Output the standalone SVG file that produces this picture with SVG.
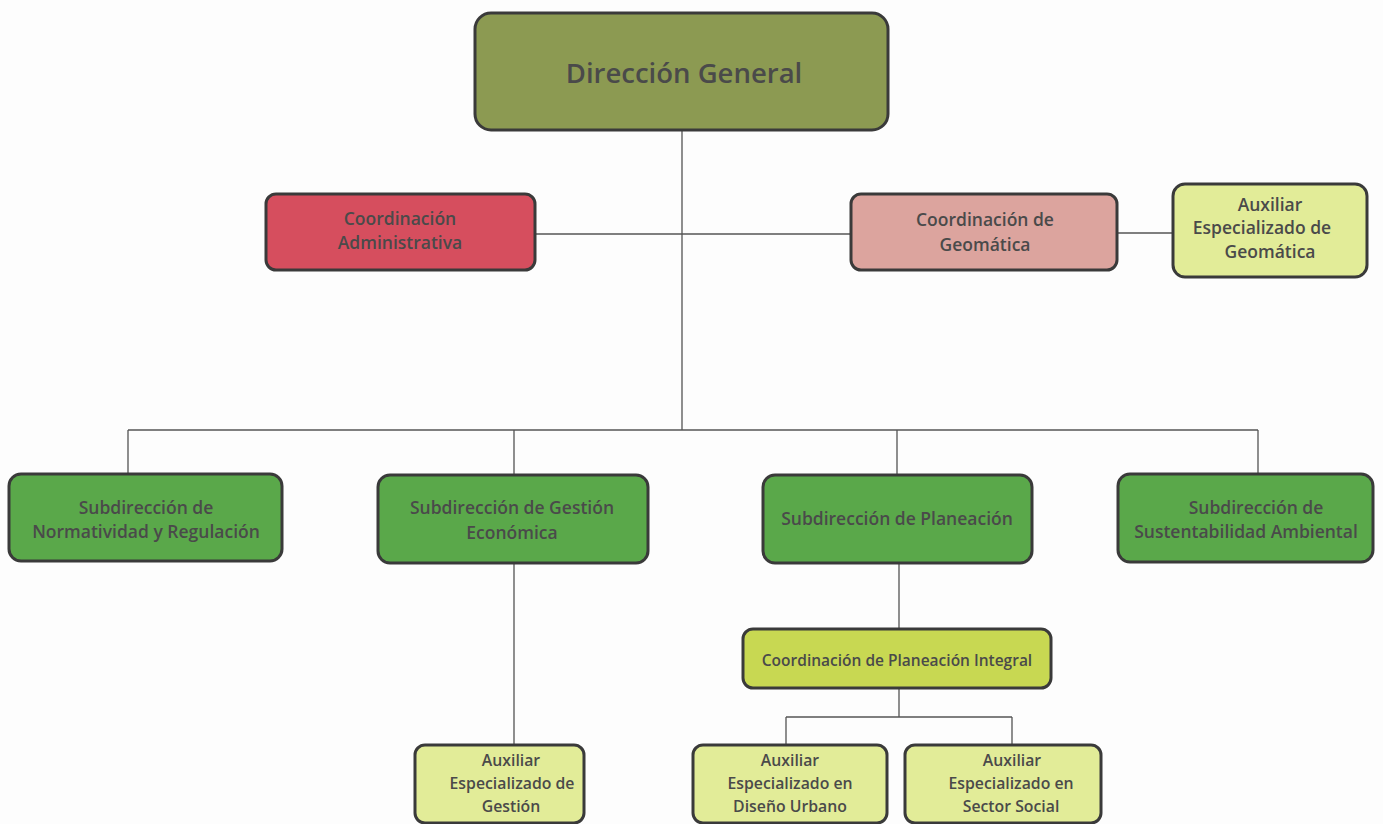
<svg xmlns="http://www.w3.org/2000/svg" width="1383" height="824" viewBox="0 0 1383 824">
<style>
.box{stroke:#3a3a3a;stroke-width:3}
.t{font-family:"Open Sans","Liberation Sans",sans-serif;font-weight:600;fill:#4a4a4a;text-anchor:middle}
.s{font-size:17.5px}
.a{font-size:15.8px}
.c{stroke:#555;stroke-width:1.3;fill:none}
</style>
<rect width="1383" height="824" fill="#fdfdfd"/>
<g id="connectors">
<path class="c" d="M682 130V430M535 234H851M1117 233H1173M128 430H1258M128 430V474M514 430V475M897 430V475M1258 430V474M514 563V745M899 563V629M899 688V717M786 717H1012M786 717V745M1012 717V745"/>
</g>
<g id="n-dg"><rect class="box" x="475" y="13" width="413" height="117" rx="16" fill="#8c9a52"/><text class="t" x="684" y="83" font-size="27.5" fill="#3e3e3e">Dirección General</text></g>
<g id="n-adm"><rect class="box" x="266" y="194" width="269" height="76" rx="10" fill="#d64e5e"/><text class="t s" x="400" y="225">Coordinación</text><text class="t s" x="400" y="249">Administrativa</text></g>
<g id="n-geo"><rect class="box" x="851" y="194" width="266" height="76" rx="10" fill="#dca49e"/><text class="t s" x="985" y="226">Coordinación de</text><text class="t s" x="985" y="251">Geomática</text></g>
<g id="n-auxgeo"><rect class="box" x="1173" y="184" width="194" height="93" rx="12" fill="#e2ec98"/><text class="t s" x="1270" y="211">Auxiliar</text><text class="t s" x="1262" y="234">Especializado de</text><text class="t s" x="1270" y="258">Geomática</text></g>
<g id="n-norm"><rect class="box" x="9" y="474" width="273" height="87" rx="12" fill="#5aa84a"/><text class="t s" x="146" y="514">Subdirección de</text><text class="t s" x="146" y="538">Normatividad y Regulación</text></g>
<g id="n-gest"><rect class="box" x="378" y="475" width="270" height="88" rx="12" fill="#5aa84a"/><text class="t s" x="512" y="514">Subdirección de Gestión</text><text class="t s" x="512" y="539">Económica</text></g>
<g id="n-plan"><rect class="box" x="763" y="475" width="269" height="88" rx="12" fill="#5aa84a"/><text class="t s" x="897" y="525">Subdirección de Planeación</text></g>
<g id="n-sust"><rect class="box" x="1118" y="474" width="255" height="88" rx="12" fill="#5aa84a"/><text class="t s" x="1256" y="514">Subdirección de</text><text class="t s" x="1246" y="538">Sustentabilidad Ambiental</text></g>
<g id="n-cpi"><rect class="box" x="743" y="629" width="308" height="59" rx="10" fill="#c8d852"/><text class="t" x="897" y="666" font-size="15.5">Coordinación de Planeación Integral</text></g>
<g id="n-auxgest"><rect class="box" x="415" y="745" width="169" height="78" rx="10" fill="#e2ec98"/><text class="t a" x="511" y="766">Auxiliar</text><text class="t a" x="512" y="789">Especializado de</text><text class="t a" x="511" y="812">Gestión</text></g>
<g id="n-auxdu"><rect class="box" x="693" y="745" width="194" height="78" rx="10" fill="#e2ec98"/><text class="t a" x="790" y="766">Auxiliar</text><text class="t a" x="790" y="789">Especializado en</text><text class="t a" x="790" y="812">Diseño Urbano</text></g>
<g id="n-auxss"><rect class="box" x="905" y="745" width="196" height="78" rx="10" fill="#e2ec98"/><text class="t a" x="1012" y="766">Auxiliar</text><text class="t a" x="1011" y="789">Especializado en</text><text class="t a" x="1011" y="812">Sector Social</text></g>
</svg>
